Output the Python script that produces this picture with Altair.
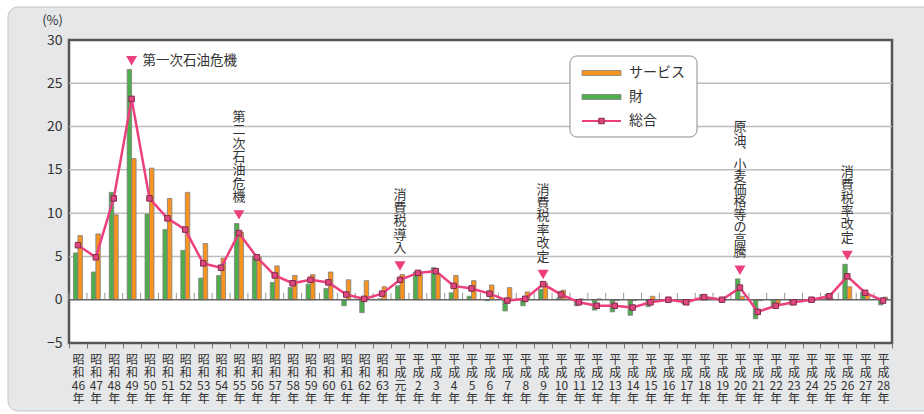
import altair as alt
import pandas as pd

# 年次（昭和46年〜平成28年）
years = (
    [f"昭和{n}年" for n in range(46, 64)]
    + ["平成元年"]
    + [f"平成{n}年" for n in range(2, 29)]
)

# 前年比（%）
goods = [5.4, 3.2, 12.4, 26.6, 9.9, 8.1, 5.7, 2.5, 2.8, 8.8,
         5.0, 2.0, 1.4, 1.8, 1.3, -0.7, -1.5, 0.1, 1.6, 3.2,
         3.7, 0.8, 0.4, -0.1, -1.3, -0.7, 1.2, 0.2, -0.7, -1.2,
         -1.4, -1.8, -0.8, -0.1, -0.5, 0.6, 0.0, 2.4, -2.2, -0.9,
         -0.6, -0.1, 0.6, 4.1, 0.9, -0.6]
services = [7.4, 7.6, 9.8, 16.3, 15.2, 11.7, 12.4, 6.5, 4.8, 7.8,
            4.9, 3.9, 2.8, 2.9, 3.2, 2.3, 2.2, 1.5, 2.9, 3.2,
            3.0, 2.8, 2.2, 1.7, 1.4, 0.9, 1.9, 1.1, 0.1, 0.1,
            -0.1, -0.1, 0.4, 0.0, -0.1, 0.1, 0.0, 0.4, -0.1, -0.5,
            -0.1, -0.1, 0.1, 1.5, 0.7, 0.3]
total = [6.3, 4.9, 11.7, 23.2, 11.7, 9.4, 8.1, 4.2, 3.7, 7.7,
         4.9, 2.8, 1.9, 2.3, 2.0, 0.6, 0.1, 0.7, 2.3, 3.1,
         3.3, 1.6, 1.3, 0.7, -0.1, 0.1, 1.8, 0.6, -0.3, -0.7,
         -0.7, -0.9, -0.3, 0.0, -0.3, 0.3, 0.0, 1.4, -1.4, -0.7,
         -0.3, 0.0, 0.4, 2.7, 0.8, -0.1]

# 出来事の注記（縦書きのものは縦組み用の読点を使う）
event_years = ["昭和49年", "昭和55年", "平成元年", "平成9年", "平成20年", "平成26年"]
event_texts = ["第一次石油危機", "第二次石油危機", "消費税導入", "消費税率改定",
               "原油︑小麦価格等の高騰", "消費税率改定"]
event_vertical = [False, True, True, True, True, True]
event_line_h = [13.3, 13.3, 13.3, 13.4, 12.5, 13.1]

FONT = "Noto Sans CJK JP"
W, H = 823, 303
GREEN, ORANGE, PINK = "#4fae4c", "#f7931e", "#ec3f7d"
TEXT = "#333333"

n = len(years)
bars_df = pd.DataFrame({
    "year": years * 2,
    "series": ["財"] * n + ["サービス"] * n,
    "value": goods + services,
})
total_df = pd.DataFrame({"year": years, "total": total})
peak = {y: max(g, s) for y, g, s in zip(years, goods, services)}
ev_df = pd.DataFrame({
    "year": event_years,
    "label": event_texts,
    "anchor": [peak[y] + 1.0 for y in event_years],
})
one = pd.DataFrame({"k": [0]})

label_expr = (
    "[substring(datum.label,0,1), substring(datum.label,1,2), "
    "substring(datum.label,2,length(datum.label)-1), "
    "substring(datum.label,length(datum.label)-1)]"
)
x_axis = alt.Axis(
    title=None, domain=False, ticks=True, tickBand="extent", tickSize=5,
    tickColor="#777777", tickWidth=1, labelExpr=label_expr, labelAngle=0,
    labelFont=FONT, labelFontSize=12, labelLineHeight=13.3, labelColor=TEXT,
    labelPadding=6, labelBaseline="top", labelOverlap=False, labelFlush=False,
    zindex=1,
)
x_scale = alt.Scale(domain=years, paddingInner=0, paddingOuter=0)
y_scale = alt.Scale(domain=[-5, 30], nice=False, zero=False)
y_axis = alt.Axis(
    title="(%)", titleAngle=0, titleX=-17, titleY=-20, titleAlign="center",
    titleBaseline="middle", titleFont=FONT, titleFontSize=13,
    titleFontWeight="normal", titleColor=TEXT,
    values=[-5, 0, 5, 10, 15, 20, 25, 30], grid=False, domain=False,
    ticks=False, labelPadding=7, labelFont=FONT, labelFontSize=14,
    labelColor=TEXT, zindex=1,
)


def X(**kw):
    return alt.X("year:N", sort=years, scale=x_scale, axis=x_axis, **kw)


def Y(field):
    return alt.Y(field, scale=y_scale, axis=y_axis)


# 外側のパネルとプロット領域
panel = alt.Chart(one).mark_rect(
    fill="#e6e7e8", stroke="#c4c4c4", strokeWidth=1, cornerRadius=10
).encode(x=alt.value(-61), x2=alt.value(880), y=alt.value(-33), y2=alt.value(371))
plot_bg = alt.Chart(one).mark_rect(
    fill="white", stroke="#555555", strokeWidth=2.5
).encode(x=alt.value(0), x2=alt.value(W), y=alt.value(0), y2=alt.value(H))

grid = alt.Chart(pd.DataFrame({"g": [5, 10, 15, 20, 25]})).mark_rule(
    color="#bdbdbd", strokeWidth=1.5
).encode(y=Y("g:Q"), x=alt.value(0), x2=alt.value(W))

zero_ticks = alt.Chart(total_df).mark_rule(color="#999999", strokeWidth=1).encode(
    x=X(bandPosition=0),
    y=alt.Y(datum=0, scale=y_scale, axis=y_axis),
    y2=alt.Y2(datum=0.8),
)

bars = alt.Chart(bars_df).mark_bar(stroke="#7f7f7f", strokeWidth=0.8).encode(
    x=X(),
    xOffset=alt.XOffset("series:N", sort=["財", "サービス"],
                        scale=alt.Scale(domain=["財", "サービス"], paddingInner=0, paddingOuter=1)),
    y=Y("value:Q"),
    color=alt.Color("series:N", scale=alt.Scale(domain=["財", "サービス"], range=[GREEN, ORANGE]),
                    legend=None),
)

zero_line = alt.Chart(one).mark_rule(color="#666666", strokeWidth=1.5).encode(
    y=alt.Y(datum=0, scale=y_scale, axis=y_axis), x=alt.value(0), x2=alt.value(W)
)

line = alt.Chart(total_df).mark_line(color=PINK, strokeWidth=2.5).encode(
    x=X(), y=Y("total:Q")
)
points = alt.Chart(total_df).mark_point(
    shape="square", size=30, filled=True, fill="#e2467f", stroke="#7d2c4f",
    strokeWidth=1, opacity=1
).encode(x=X(), y=Y("total:Q"))

triangles = alt.Chart(ev_df).mark_point(
    shape="triangle-down", size=120, filled=True, color=PINK, opacity=1
).encode(x=X(), y=Y("anchor:Q"))

# 注記テキスト：縦書きは1文字ずつ改行して三角の上に積む
text_layers = []
for i, (txt, vert, lh) in enumerate(zip(event_texts, event_vertical, event_line_h)):
    sub = ev_df.iloc[[i]]
    if vert:
        t = alt.Chart(sub).transform_calculate(
            lines="split(datum.label, '')"
        ).mark_text(
            baseline="bottom", dy=-11 - lh * (len(txt) - 1), lineHeight=lh,
            font=FONT, fontSize=13, color=TEXT
        ).encode(x=X(), y=Y("anchor:Q"), text="lines:N")
    else:
        t = alt.Chart(sub).mark_text(
            align="left", baseline="middle", dx=11, font=FONT, fontSize=13.5, color=TEXT
        ).encode(x=X(), y=Y("anchor:Q"), text="label:N")
    text_layers.append(t)

# 凡例
legend_layers = [
    alt.Chart(one).mark_rect(fill="white", stroke="#8c8c8c", strokeWidth=1, cornerRadius=7)
    .encode(x=alt.value(501), x2=alt.value(628), y=alt.value(16), y2=alt.value(97)),
]
for name, col, yy in [("サービス", ORANGE, 33), ("財", GREEN, 57)]:
    legend_layers.append(
        alt.Chart(one).mark_rect(fill=col, stroke="#7f7f7f", strokeWidth=0.8)
        .encode(x=alt.value(513), x2=alt.value(552), y=alt.value(yy - 2.5), y2=alt.value(yy + 2.5))
    )
    legend_layers.append(
        alt.Chart(one).mark_text(align="left", baseline="middle", font=FONT, fontSize=14, color=TEXT)
        .encode(x=alt.value(560), y=alt.value(yy), text=alt.value(name))
    )
legend_layers += [
    alt.Chart(one).mark_rule(color=PINK, strokeWidth=2)
    .encode(x=alt.value(513), x2=alt.value(552), y=alt.value(81)),
    alt.Chart(one).mark_point(shape="square", size=30, filled=True, fill="#e2467f",
                              stroke="#7d2c4f", strokeWidth=1, opacity=1)
    .encode(x=alt.value(532.5), y=alt.value(81)),
    alt.Chart(one).mark_text(align="left", baseline="middle", font=FONT, fontSize=14, color=TEXT)
    .encode(x=alt.value(560), y=alt.value(81), text=alt.value("総合")),
]

chart = alt.layer(
    panel, plot_bg, grid, zero_ticks, bars, zero_line, line, points,
    triangles, *text_layers, *legend_layers
).properties(
    width=W, height=H,
    autosize=alt.AutoSizeParams(type="none"),
    padding={"left": 69, "top": 40, "right": 32, "bottom": 71},
).configure_view(strokeWidth=0)

chart.save("out.html", embed_options={"renderer": "svg", "actions": False})
